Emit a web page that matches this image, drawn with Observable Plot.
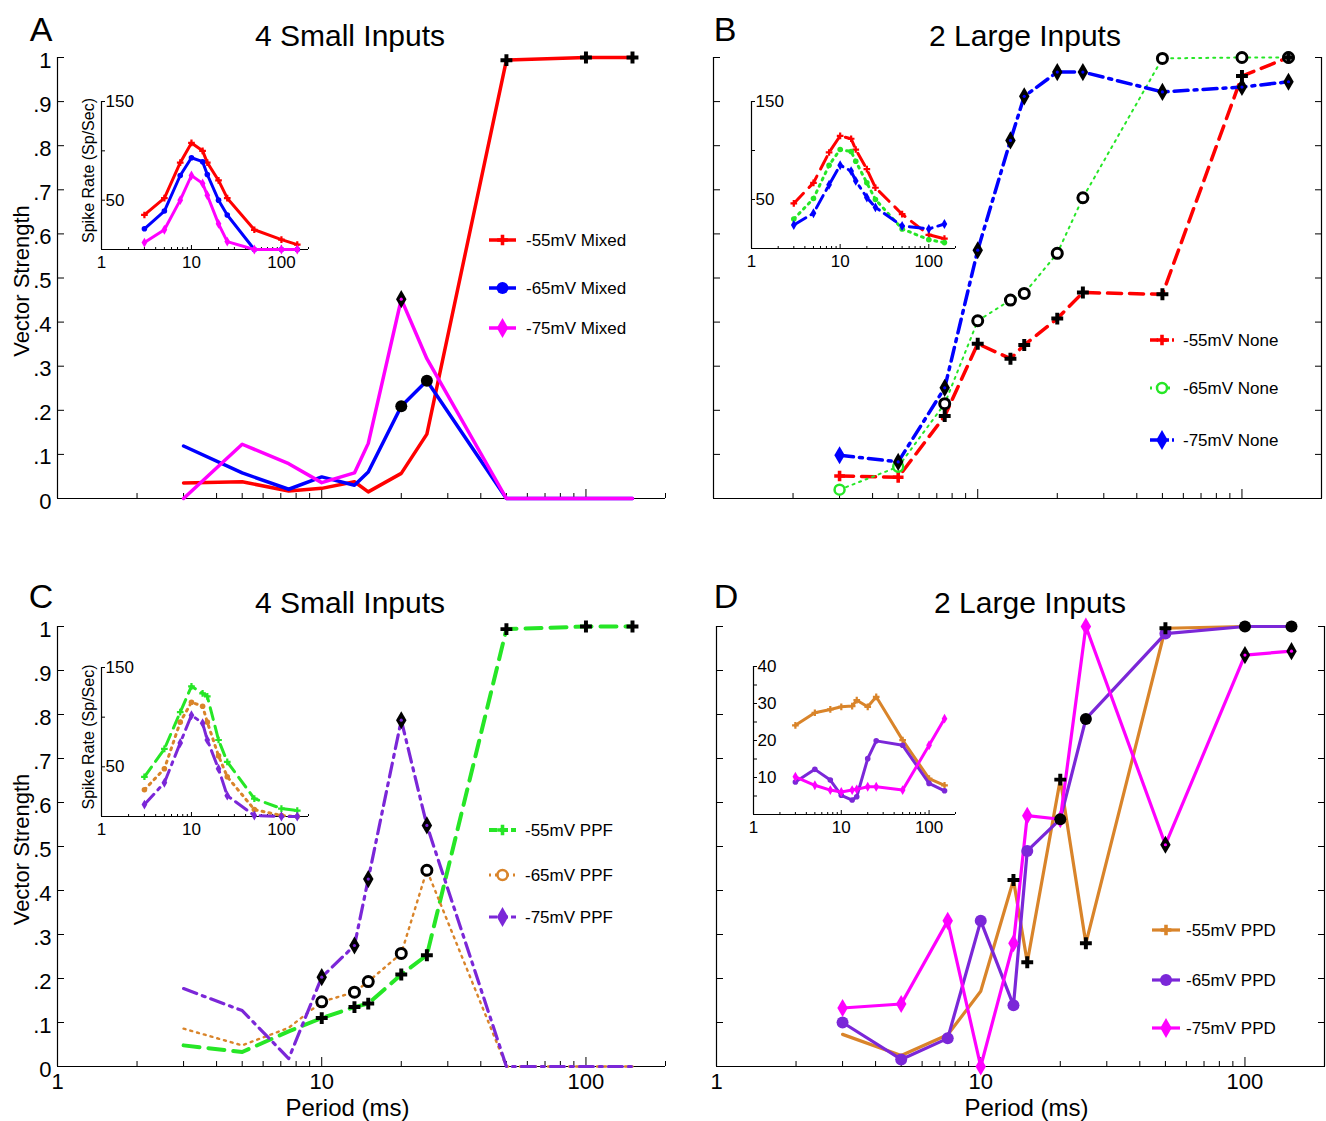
<!DOCTYPE html>
<html>
<head>
<meta charset="utf-8">
<script src="https://cdn.jsdelivr.net/npm/d3@7"></script>
<script src="https://cdn.jsdelivr.net/npm/@observablehq/plot@0.6"></script>
<style>
html,body{margin:0;padding:0;background:#fff;}
#fig{position:relative;width:1326px;height:1121px;overflow:hidden;background:#fff;font-family:"Liberation Sans",Arial,Helvetica,sans-serif;color:#000;}
#fig svg{position:absolute;left:0;top:0;overflow:visible;}
</style>
</head>
<body>
<div id="fig"></div>
<script>
// ---------------- DATA ----------------
const periods = [3, 5, 7.5, 10, 13.3, 15, 20, 25, 50, 100, 150];   // ms
const xDomain = [1, 200];
const yTicks = [0, 0.1, 0.2, 0.3, 0.4, 0.5, 0.6, 0.7, 0.8, 0.9, 1];
const yTickLabels = ["0", ".1", ".2", ".3", ".4", ".5", ".6", ".7", ".8", ".9", "1"];
const xMajor = [1, 10, 100];
const xMajorLabels = ["1", "10", "100"];
const xMinor = [2, 3, 4, 5, 6, 7, 8, 9, 20, 30, 40, 50, 60, 70, 80, 90, 200];

const titles = ["4 Small Inputs", "2 Large Inputs", "4 Small Inputs", "2 Large Inputs"];
const panelLetters = ["A", "B", "C", "D"];
const yAxisTitle = "Vector Strength";
const xAxisTitle = "Period (ms)";
const insetYAxisTitle = "Spike Rate (Sp/Sec)";

// Panel A (4 small inputs, Mixed)
const namesA = ["-55mV Mixed", "-65mV Mixed", "-75mV Mixed"];
const vsA55 = [0.035, 0.038, 0.017, 0.023, 0.038, 0.015, 0.057, 0.146, 0.994, 1.0, 1.0];
const vsA65 = [0.119, 0.058, 0.021, 0.049, 0.030, 0.060, 0.209, 0.267, 0, 0, 0];
const vsA75 = [0, 0.123, 0.079, 0.036, 0.058, 0.125, 0.452, 0.317, 0, 0, 0];
const sigA55 = [0, 0, 0, 0, 0, 0, 0, 0, 1, 1, 1];
const sigA65 = [0, 0, 0, 0, 0, 0, 1, 1, 0, 0, 0];
const sigA75 = [0, 0, 0, 0, 0, 0, 1, 0, 0, 0, 0];
const rateA55 = [35, 52, 88, 108, 100, 88, 70, 52, 20, 10, 5];
const rateA65 = [21, 39, 75, 93, 89, 76, 50, 35, 0, 0, 0];
const rateA75 = [7, 20, 50, 75, 67, 55, 26, 8, 0, 0, 0];

// Panel B (2 large inputs, None)
const namesB = ["-55mV None", "-65mV None", "-75mV None"];
const vsB55 = [0.051, 0.048, 0.187, 0.351, 0.317, 0.348, 0.408, 0.467, 0.463, 0.958, 1.0];
const vsB65 = [0.020, 0.072, 0.215, 0.403, 0.450, 0.465, 0.556, 0.682, 0.998, 1.0, 1.0];
const vsB75 = [0.098, 0.083, 0.251, 0.563, 0.812, 0.912, 0.967, 0.967, 0.922, 0.933, 0.945];
const sigB55 = [0, 0, 1, 1, 1, 1, 1, 1, 1, 1, 1];
const sigB65 = [0, 0, 1, 1, 1, 1, 1, 1, 1, 1, 1];
const sigB75 = [0, 1, 1, 1, 1, 1, 1, 1, 1, 1, 1];
const rateB55 = [46, 67, 98, 115, 112, 101, 81, 62, 35, 14, 10];
const rateB65 = [30, 51, 85, 101, 99, 89, 67, 50, 20, 9, 6];
const rateB75 = [24, 36, 65, 85, 79, 69, 52, 42, 23, 20, 25];

// Panel C (4 small inputs, PPF)
const namesC = ["-55mV PPF", "-65mV PPF", "-75mV PPF"];
const vsC55 = [0.048, 0.033, 0.080, 0.110, 0.135, 0.143, 0.209, 0.253, 0.994, 1.0, 1.0];
const vsC65 = [0.086, 0.048, 0.088, 0.147, 0.169, 0.193, 0.257, 0.446, 0, 0, 0];
const vsC75 = [0.177, 0.127, 0.018, 0.203, 0.275, 0.426, 0.787, 0.548, 0, 0, 0];
const sigC55 = [0, 0, 0, 1, 1, 1, 1, 1, 1, 1, 1];
const sigC65 = [0, 0, 0, 1, 1, 1, 1, 1, 0, 0, 0];
const sigC75 = [0, 0, 0, 1, 1, 1, 1, 1, 0, 0, 0];
const rateC55 = [40, 68, 105, 131, 124, 121, 77, 55, 18, 8, 6];
const rateC65 = [27, 48, 95, 115, 111, 95, 61, 40, 7, 1, 0];
const rateC75 = [12, 34, 74, 102, 94, 77, 48, 21, 1, 0, 0];

// Panel D (2 large inputs, PPD)
const namesD = ["-55mV PPD", "-65mV PPD", "-75mV PPD"];
const vsD55 = [0.073, 0.025, 0.072, 0.171, 0.424, 0.237, 0.652, 0.280, 0.996, 1.0, 1.0];
const vsD65 = [0.100, 0.016, 0.064, 0.331, 0.139, 0.490, 0.562, 0.790, 0.984, 1.0, 1.0];
const vsD75 = [0.133, 0.142, 0.331, 0.0, 0.280, 0.570, 0.562, 1.0, 0.504, 0.935, 0.944];
const sigD55 = [0, 0, 0, 0, 1, 1, 1, 1, 1, 0, 0];
const sigD65 = [0, 0, 0, 0, 0, 0, 1, 1, 0, 1, 1];
const sigD75 = [0, 0, 0, 0, 0, 0, 0, 0, 1, 1, 1];
const rateD55 = [24.1, 27.5, 28.4, 29.1, 29.3, 30.9, 29.1, 31.8, 20.1, 9.7, 7.9];
const rateD65 = [8.8, 12.2, 9.3, 5.2, 3.9, 4.8, 15.1, 19.9, 18.7, 8.4, 6.4];
const rateD75 = [10.2, 7.9, 6.6, 6.1, 6.6, 6.8, 7.5, 7.5, 6.6, 18.7, 25.9];

const insetTicks150 = [0, 50, 100, 150];
const insetLabelTicks150 = [50, 150];
const insetLabels150 = ["50", "150"];
const insetTicks40 = [5, 10, 15, 20, 25, 30, 35, 40];
const insetLabelTicks40 = [10, 20, 30, 40];
const insetLabels40 = ["10", "20", "30", "40"];

// ---------------- STYLE / LAYOUT ----------------
const W = 1326, H = 1121;
const FONT = '"Liberation Sans", Arial, Helvetica, sans-serif';
const RED = "#ff0000", BLUE = "#0000ff", MAGENTA = "#ff00ff", GREEN = "#26e626",
      ORANGE = "#d9842a", PURPLE = "#7b27d8";
const DASH = "14,8", DOT = "2,5", DASHDOT = "14,6,3,6";

const panels = [
  {
    frame: {left: 57, right: 665, top: 57, bottom: 498}, yLabels: true, xLabels: false, box: false,
    yTitle: true, xTitle: false, xTitleDx: -14,
    title: {x: 350, y: 35}, letter: {x: 41, y: 29},
    legend: {x0: 489, x1: 516, tx: 526, ys: [240, 288, 328]},
    inset: {frame: {left: 101, right: 308, top: 101, bottom: 249}, yMax: 150, ticks: insetTicks150,
            labelTicks: insetLabelTicks150, labels: insetLabels150, yTitle: true},
    series: [
      {name: namesA[0], vs: vsA55, sig: sigA55, rate: rateA55, color: RED, dash: null, width: 3.5, kind: "plus", showAll: false, insetDash: null},
      {name: namesA[1], vs: vsA65, sig: sigA65, rate: rateA65, color: BLUE, dash: null, width: 3.5, kind: "dot", showAll: false, insetDash: null},
      {name: namesA[2], vs: vsA75, sig: sigA75, rate: rateA75, color: MAGENTA, dash: null, width: 3.5, kind: "diamond", showAll: false, insetDash: null}
    ]
  },
  {
    frame: {left: 713, right: 1321, top: 57, bottom: 498}, yLabels: false, xLabels: false, box: true,
    yTitle: false, xTitle: false, xTitleDx: 6,
    title: {x: 1025, y: 35}, letter: {x: 725, y: 29},
    legend: {x0: 1150, x1: 1174, tx: 1183, ys: [340, 388, 440]},
    inset: {frame: {left: 751, right: 955, top: 101, bottom: 248}, yMax: 150, ticks: insetTicks150,
            labelTicks: insetLabelTicks150, labels: insetLabels150, yTitle: false},
    series: [
      {name: namesB[0], vs: vsB55, sig: sigB55, rate: rateB55, color: RED, dash: DASH, width: 3.5, kind: "plus", showAll: true, insetDash: DASH},
      {name: namesB[1], vs: vsB65, sig: sigB65, rate: rateB65, color: GREEN, dash: DOT, width: 2, kind: "ring", showAll: true, insetDash: DOT},
      {name: namesB[2], vs: vsB75, sig: sigB75, rate: rateB75, color: BLUE, dash: DASHDOT, width: 3.5, kind: "diamond", showAll: true, insetDash: DASHDOT}
    ]
  },
  {
    frame: {left: 57, right: 665, top: 626, bottom: 1066}, yLabels: true, xLabels: true, box: false,
    yTitle: true, xTitle: true, xTitleDx: -14,
    title: {x: 350, y: 602}, letter: {x: 41, y: 596},
    legend: {x0: 489, x1: 516, tx: 525, ys: [830, 875, 917]},
    inset: {frame: {left: 101, right: 308, top: 667, bottom: 816}, yMax: 150, ticks: insetTicks150,
            labelTicks: insetLabelTicks150, labels: insetLabels150, yTitle: true},
    series: [
      {name: namesC[0], vs: vsC55, sig: sigC55, rate: rateC55, color: GREEN, dash: "16,9", width: 4, kind: "plus", showAll: false, insetDash: "12,7"},
      {name: namesC[1], vs: vsC65, sig: sigC65, rate: rateC65, color: ORANGE, dash: DOT, width: 2.4, kind: "ring", showAll: false, insetDash: DOT},
      {name: namesC[2], vs: vsC75, sig: sigC75, rate: rateC75, color: PURPLE, dash: DASHDOT, width: 3.2, kind: "diamond", showAll: false, insetDash: DASHDOT}
    ]
  },
  {
    frame: {left: 716, right: 1324, top: 626, bottom: 1066}, yLabels: false, xLabels: true, box: true,
    yTitle: false, xTitle: true, xTitleDx: 6,
    title: {x: 1030, y: 602}, letter: {x: 726, y: 596},
    legend: {x0: 1152, x1: 1180, tx: 1186, ys: [930, 980, 1028]},
    inset: {frame: {left: 753, right: 955, top: 666, bottom: 814}, yMax: 40, ticks: insetTicks40,
            labelTicks: insetLabelTicks40, labels: insetLabels40, yTitle: false},
    series: [
      {name: namesD[0], vs: vsD55, sig: sigD55, rate: rateD55, color: ORANGE, dash: null, width: 3.2, kind: "plus", showAll: false, insetDash: null},
      {name: namesD[1], vs: vsD65, sig: sigD65, rate: rateD65, color: PURPLE, dash: null, width: 3.2, kind: "dot", showAll: true, insetDash: null},
      {name: namesD[2], vs: vsD75, sig: sigD75, rate: rateD75, color: MAGENTA, dash: null, width: 3.2, kind: "diamond", showAll: true, insetDash: null}
    ]
  }
];

// ---------------- HELPERS ----------------
const fig = document.getElementById("fig");
function rowsOf(vals, sig) { return periods.map((p, i) => ({p, v: vals[i], sig: sig ? sig[i] : 0})); }
const xLabelOf = d => { const k = xMajor.indexOf(+d); return k < 0 ? "" : xMajorLabels[k]; };

function sigMarks(rows, s) {
  const o = {x: "p", y: "v"};
  switch (s.kind) {
    case "plus": return [Plot.dot(rows, {...o, symbol: "cross", fill: "#000", r: 5})];
    case "dot": return [Plot.dot(rows, {...o, fill: "#000", r: 6})];
    case "ring": return [Plot.dot(rows, {...o, fill: "#fff", stroke: "#000", strokeWidth: 3, r: 5})];
    case "diamond": return [Plot.dot(rows, {...o, symbol: "diamond", fill: "#000", r: 5.5}),
                            Plot.dot(rows, {...o, fill: s.color, r: 1.6})];
  }
}
function colorMarks(rows, s) {
  const o = {x: "p", y: "v"};
  switch (s.kind) {
    case "plus": return [Plot.dot(rows, {...o, symbol: "cross", fill: s.color, r: 4.5})];
    case "dot": return [Plot.dot(rows, {...o, fill: s.color, r: 6})];
    case "ring": return [Plot.dot(rows, {...o, fill: "#fff", stroke: s.color, strokeWidth: 2.5, r: 5})];
    case "diamond": return [Plot.dot(rows, {...o, symbol: "diamond", fill: s.color, r: 5.5})];
  }
}
function smallMarks(rows, s) {
  const o = {x: "p", y: "v", fill: s.color};
  switch (s.kind) {
    case "plus": return Plot.dot(rows, {...o, symbol: "cross", r: 2.8});
    case "dot": case "ring": return Plot.dot(rows, {...o, r: 2.8});
    case "diamond": return Plot.dot(rows, {...o, symbol: "diamond", r: 3});
  }
}
function addPlot(p) { fig.appendChild(p); }

function frameOpts(f) {
  return {width: W, height: H, marginLeft: f.left, marginRight: W - f.right, marginTop: f.top, marginBottom: H - f.bottom,
          style: {background: "transparent", fontFamily: FONT, overflow: "visible"}};
}

// ---------------- MAIN PANELS ----------------
for (const cfg of panels) {
  const f = cfg.frame;
  const marks = [
    Plot.axisY({ticks: yTicks, anchor: "left", tickSize: -7, label: null, tickFormat: () => ""}),
    Plot.axisX({ticks: xMajor, anchor: "bottom", tickSize: -9, tickPadding: 16, fontSize: 22, label: null,
                tickFormat: d => cfg.xLabels ? xLabelOf(d) : ""}),
    Plot.axisX({ticks: xMinor, anchor: "bottom", tickSize: -5, label: null, tickFormat: () => ""}),
    Plot.ruleX([xDomain[0]], {stroke: "#000", strokeWidth: 1.2}),
    Plot.ruleY([0], {stroke: "#000", strokeWidth: 1.2})
  ];
  if (cfg.yLabels) marks.push(Plot.axisY({ticks: yTicks, anchor: "left", tickSize: 0, tickPadding: 6, fontSize: 22, dy: 3, label: null,
                tickFormat: (d, i) => yTickLabels[i]}));
  if (cfg.box) {
    marks.push(Plot.ruleX([xDomain[1]], {stroke: "#000", strokeWidth: 1.2}));
    marks.push(Plot.axisY({ticks: yTicks, anchor: "right", tickSize: -7, label: null, tickFormat: () => ""}));
  }
  if (cfg.yTitle) marks.push(Plot.text([yAxisTitle], {text: d => d, frameAnchor: "left", textAnchor: "middle", lineAnchor: "middle", rotate: -90, dx: -36, dy: 3, fontSize: 22}));
  if (cfg.xTitle) marks.push(Plot.text([xAxisTitle], {text: d => d, frameAnchor: "bottom", textAnchor: "middle", lineAnchor: "middle", dx: cfg.xTitleDx, dy: 42, fontSize: 24}));
  for (const s of cfg.series) {
    const rows = rowsOf(s.vs, s.sig);
    marks.push(Plot.line(rows, {x: "p", y: "v", stroke: s.color, strokeWidth: s.width, strokeDasharray: s.dash, strokeLinejoin: "round"}));
  }
  for (const s of cfg.series) {
    const rows = rowsOf(s.vs, s.sig);
    if (s.showAll) marks.push(...colorMarks(rows.filter(d => !d.sig), s));
  }
  for (const s of [...cfg.series].reverse()) {
    const rows = rowsOf(s.vs, s.sig);
    marks.push(...sigMarks(rows.filter(d => d.sig), s));
  }
  addPlot(Plot.plot({...frameOpts(f), x: {type: "log", domain: xDomain}, y: {domain: [0, 1]}, marks}));

  // inset
  const ins = cfg.inset, fi = ins.frame;
  const im = [
    Plot.axisY({ticks: ins.ticks, anchor: "left", tickSize: -4, label: null, tickFormat: () => ""}),
    Plot.axisY({ticks: ins.labelTicks, anchor: "left", tickSize: 0, tickPadding: -4, textAnchor: "start", fontSize: 17, label: null,
                tickFormat: (d, i) => ins.labels[i]}),
    Plot.axisX({ticks: xMajor, anchor: "bottom", tickSize: -4, tickPadding: 10, fontSize: 17, label: null,
                tickFormat: d => xLabelOf(d)}),
    Plot.axisX({ticks: xMinor, anchor: "bottom", tickSize: -2, label: null, tickFormat: () => ""}),
    Plot.ruleX([xDomain[0]], {stroke: "#000", strokeWidth: 1.2}),
    Plot.ruleY([0], {stroke: "#000", strokeWidth: 1.2})
  ];
  if (ins.yTitle) im.push(Plot.text([insetYAxisTitle], {text: d => d, frameAnchor: "left", textAnchor: "middle", lineAnchor: "middle", rotate: -90, dx: -13, dy: -5, fontSize: 16}));
  for (const s of cfg.series) {
    const rows = rowsOf(s.rate, null);
    im.push(Plot.line(rows, {x: "p", y: "v", stroke: s.color, strokeWidth: 3, strokeDasharray: s.insetDash, strokeLinejoin: "round"}));
    im.push(smallMarks(rows, s));
  }
  addPlot(Plot.plot({...frameOpts(fi), x: {type: "log", domain: xDomain}, y: {domain: [0, ins.yMax]}, marks: im}));
}

// ---------------- TITLES, LETTERS, LEGENDS ----------------
const over = d3.select(fig).append("svg").attr("width", W).attr("height", H)
  .style("font-family", FONT);
panels.forEach((cfg, k) => {
  over.append("text").attr("x", cfg.title.x).attr("y", cfg.title.y).attr("text-anchor", "middle")
    .attr("dominant-baseline", "central").attr("font-size", 30).text(titles[k]);
  over.append("text").attr("x", cfg.letter.x).attr("y", cfg.letter.y).attr("text-anchor", "middle")
    .attr("dominant-baseline", "central").attr("font-size", 34).text(panelLetters[k]);
  const L = cfg.legend;
  cfg.series.forEach((s, j) => {
    const y = L.ys[j], g = over.append("g");
    g.append("line").attr("x1", L.x0).attr("x2", L.x1).attr("y1", y).attr("y2", y)
      .attr("stroke", s.color).attr("stroke-width", Math.max(3, s.width)).attr("stroke-dasharray", s.dash ? (s.kind === "ring" ? "2,4" : "8,3") : null);
    const cx = (L.x0 + L.x1) / 2;
    const symType = s.kind === "plus" ? d3.symbolCross : s.kind === "diamond" ? d3.symbolDiamond : d3.symbolCircle;
    const r = s.kind === "plus" ? 4.5 : 6;
    const path = g.append("path").attr("transform", `translate(${cx},${y})`)
      .attr("d", d3.symbol(symType, Math.PI * r * r)());
    if (s.kind === "ring") path.attr("fill", "#fff").attr("stroke", s.color).attr("stroke-width", 2.5).attr("d", d3.symbol(symType, Math.PI * 25)());
    else path.attr("fill", s.color);
    g.append("text").attr("x", L.tx).attr("y", y).attr("dominant-baseline", "central").attr("font-size", 17).text(s.name);
  });
});
</script>
</body>
</html>
